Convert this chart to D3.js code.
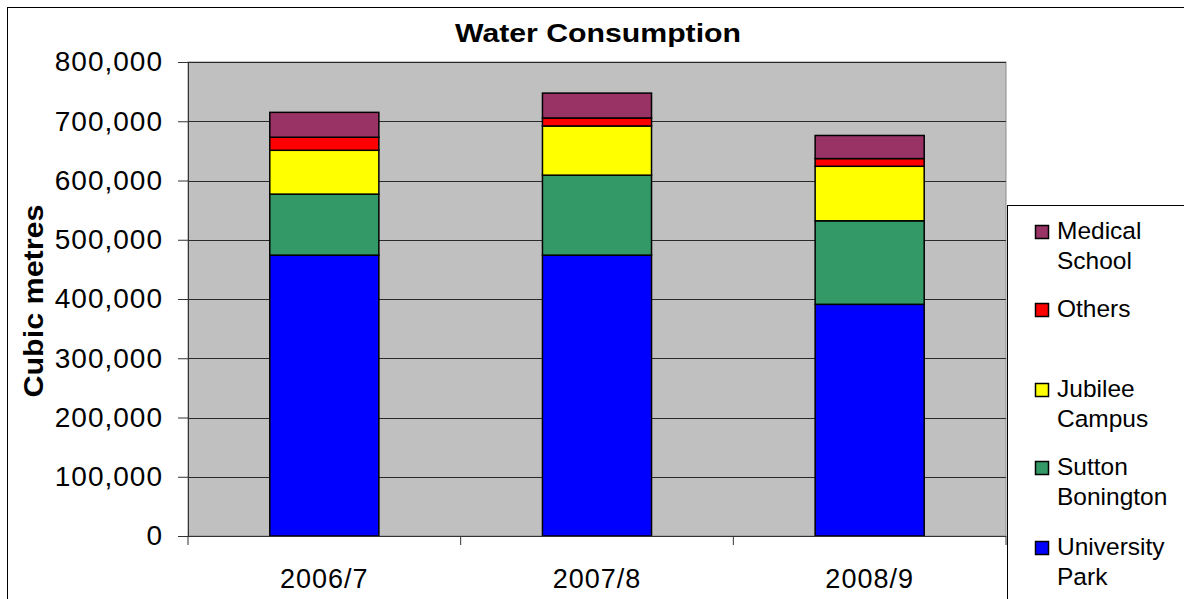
<!DOCTYPE html>
<html>
<head>
<meta charset="utf-8">
<script src="https://cdn.jsdelivr.net/npm/d3@7"></script>
<style>
  body { margin: 0; background: #fff; }
  text { font-family: "Liberation Sans", Arial, sans-serif; fill: #000; }
</style>
</head>
<body>
<div id="chart"></div>
<script>
// Data (cubic metres)
const years = ["2006/7", "2007/8", "2008/9"];
const seriesNames = ["University Park", "Sutton Bonington", "Jubilee Campus", "Others", "Medical School"];
const universityPark = [474000, 474000, 391000];
const suttonBonington = [103000, 135000, 141000];
const jubileeCampus = [74000, 83000, 92000];
const others = [22000, 13500, 13000];
const medicalSchool = [42000, 42000, 39000];
const yTicks = [0, 100000, 200000, 300000, 400000, 500000, 600000, 700000, 800000];
const seriesColors = ["#0000FF", "#339966", "#FFFF00", "#FF0000", "#993366"];
const legendLines = {
    "Medical School": ["Medical", "School"],
    "Others": ["Others"],
    "Jubilee Campus": ["Jubilee", "Campus"],
    "Sutton Bonington": ["Sutton", "Bonington"],
    "University Park": ["University", "Park"]
};

const width = 1184, height = 599;
const plot = { left: 188, right: 1006, top: 62, bottom: 536 };

const svg = d3.select("#chart")
    .append("svg")
    .attr("width", width)
    .attr("height", height);

// Outer chart frame
svg.append("rect")
    .attr("x", 7.5).attr("y", 7.5)
    .attr("width", width).attr("height", height)
    .attr("fill", "#fff")
    .attr("stroke", "#000");

const table = years.map((y, i) => ({
    year: y,
    "University Park": universityPark[i],
    "Sutton Bonington": suttonBonington[i],
    "Jubilee Campus": jubileeCampus[i],
    "Others": others[i],
    "Medical School": medicalSchool[i]
}));
const stacked = d3.stack().keys(seriesNames)(table);

const xScale = d3.scaleBand()
    .domain(years)
    .range([plot.left, plot.right])
    .paddingInner(0.6)
    .paddingOuter(0.3);

const yScale = d3.scaleLinear()
    .domain([0, 800000])
    .range([plot.bottom, plot.top]);

const colorScale = d3.scaleOrdinal().domain(seriesNames).range(seriesColors);

// Plot area background
svg.append("rect")
    .attr("x", plot.left).attr("y", plot.top)
    .attr("width", plot.right - plot.left)
    .attr("height", plot.bottom - plot.top)
    .attr("fill", "#C0C0C0")
    .attr("stroke", "#8c8c8c");

// Gridlines
svg.append("g")
    .selectAll("line")
    .data(yTicks.filter(d => d > 0))
    .join("line")
    .attr("x1", plot.left).attr("x2", plot.right)
    .attr("y1", d => Math.round(yScale(d)) + 0.5)
    .attr("y2", d => Math.round(yScale(d)) + 0.5)
    .attr("stroke", "#2a2a2a");

// Stacked bars
svg.append("g")
    .selectAll("g")
    .data(stacked)
    .join("g")
    .attr("fill", d => colorScale(d.key))
    .selectAll("rect")
    .data(d => d)
    .join("rect")
    .attr("x", d => xScale(d.data.year))
    .attr("y", d => yScale(d[1]))
    .attr("width", xScale.bandwidth())
    .attr("height", d => yScale(d[0]) - yScale(d[1]))
    .attr("stroke", "#000")
    .attr("stroke-width", 1.5);

// Y axis
const leftAxis = d3.axisLeft(yScale)
    .tickValues(yTicks)
    .tickFormat(d3.format(","))
    .tickSize(10)
    .tickPadding(15);
const yAxisG = svg.append("g")
    .attr("transform", `translate(${plot.left},0)`)
    .call(leftAxis);
yAxisG.select(".domain").attr("stroke", "#333");
yAxisG.selectAll(".tick line").attr("stroke", "#333");
yAxisG.selectAll(".tick text")
    .attr("font-size", 28)
    .attr("letter-spacing", 1)
    .attr("font-family", "Liberation Sans, Arial, sans-serif")
    .attr("fill", "#000");

// X axis: ticks at the category boundaries
const bandStep = (plot.right - plot.left) / years.length;
const xAxisG = svg.append("g");
xAxisG.append("line")
    .attr("x1", plot.left).attr("x2", plot.right)
    .attr("y1", plot.bottom + 0.5).attr("y2", plot.bottom + 0.5)
    .attr("stroke", "#333");
xAxisG.selectAll(".xtick")
    .data(d3.range(years.length + 1))
    .join("line")
    .attr("class", "xtick")
    .attr("x1", i => plot.left + i * bandStep)
    .attr("x2", i => plot.left + i * bandStep)
    .attr("y1", plot.bottom)
    .attr("y2", plot.bottom + 9)
    .attr("stroke", "#333");
xAxisG.selectAll(".xlabel")
    .data(years)
    .join("text")
    .attr("class", "xlabel")
    .attr("x", d => xScale(d) + xScale.bandwidth() / 2)
    .attr("y", 588)
    .attr("text-anchor", "middle")
    .attr("font-size", 27)
    .attr("letter-spacing", 1)
    .text(d => d);

// Title
svg.append("text")
    .text("Water Consumption")
    .attr("x", 598)
    .attr("y", 42)
    .attr("text-anchor", "middle")
    .attr("font-size", 26.5)
    .attr("font-weight", "bold")
    .attr("textLength", 286)
    .attr("lengthAdjust", "spacingAndGlyphs");

// Y axis title
svg.append("text")
    .text("Cubic metres")
    .attr("transform", `translate(43,301) rotate(-90)`)
    .attr("text-anchor", "middle")
    .attr("font-size", 27)
    .attr("font-weight", "bold")
    .attr("textLength", 193)
    .attr("lengthAdjust", "spacingAndGlyphs");

// Legend
const legend = svg.append("g").attr("class", "legend");
legend.append("rect")
    .attr("x", 1007.5).attr("y", 205.5)
    .attr("width", 200).attr("height", 420)
    .attr("fill", "#fff")
    .attr("stroke", "#000");

const legendOrder = ["Medical School", "Others", "Jubilee Campus", "Sutton Bonington", "University Park"];
const legendY = [232, 310, 390, 468, 548];
legendOrder.forEach((name, i) => {
    const g = legend.append("g")
        .attr("transform", `translate(0, ${legendY[i]})`);
    g.append("rect")
        .attr("x", 1035.5).attr("y", -6.5)
        .attr("width", 13).attr("height", 13)
        .attr("fill", colorScale(name))
        .attr("stroke", "#000")
        .attr("stroke-width", 1.5);
    g.selectAll("text")
        .data(legendLines[name])
        .join("text")
        .attr("x", 1057)
        .attr("y", (d, j) => 6.5 + j * 30.5)
        .attr("font-size", 24.5)
        .text(d => d);
});
</script>
</body>
</html>
